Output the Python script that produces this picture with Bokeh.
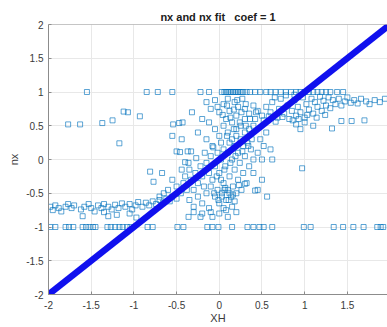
from bokeh.plotting import figure
from bokeh.models import Range1d, FixedTicker, Title, Span
from bokeh.embed import file_html
from bokeh.resources import INLINE

# ---------------- data ----------------
title_text = "nx and nx fit \u00a0 coef = 1"
x_label = "XH"
y_label = "nx"
coef = 1

x_ticks = [-2, -1.5, -1, -0.5, 0, 0.5, 1, 1.5, 2]
x_tick_labels = ["-2", "-1.5", "-1", "-0.5", "0", "0.5", "1", "1.5", "2"]
y_ticks = [-2, -1.5, -1, -0.5, 0, 0.5, 1, 1.5, 2]
y_tick_labels = ["-2", "-1.5", "-1", "-0.5", "0", "0.5", "1", "1.5", "2"]

# row of samples at nx = 1
row_top_x = [-1.55, -0.85, -0.72, -0.55, -0.22, -0.12, 0.03, 0.06, 0.08, 0.1, 0.12, 0.14, 0.16,
             0.18, 0.2, 0.22, 0.24, 0.26, 0.28, 0.32, 0.36, 0.42, 0.48, 0.55, 0.6, 0.66, 0.72,
             0.78, 0.84, 0.9, 0.95, 1.0, 1.05, 1.1, 1.15, 1.2, 1.25, 1.3, 1.38, 1.45]
row_top_y = [1.0] * len(row_top_x)

# row of samples at nx = -1
row_bot_x = [-1.98, -1.92, -1.8, -1.76, -1.71, -1.6, -1.56, -1.52, -1.48, -1.45, -1.31,
             -1.27, -1.22, -1.17, -1.13, -1.08, -1.04, -0.84, -0.78, -0.49, -0.42, -0.14,
             -0.08, -0.01, 0.15, 0.33, 0.4, 0.47, 0.52, 0.62, 0.99, 1.07, 1.34, 1.45,
             1.57, 1.69, 1.85, 1.89, 1.92]
row_bot_y = [-1.0] * len(row_bot_x)

# left cluster around nx = -0.7
left_x = [-1.98, -1.95, -1.92, -1.88, -1.85, -1.8, -1.77, -1.73, -1.7, -1.62, -1.58, -1.53,
          -1.5, -1.46, -1.42, -1.38, -1.35, -1.3, -1.26, -1.22, -1.18, -1.14, -1.1, -1.05,
          -1.02, -0.98, -0.95, -0.9, -0.86, -0.82, -0.78, -0.74, -0.7, -0.66, -0.62, -0.58,
          -0.55, -1.6, -1.35, -1.3, -1.2, -0.97, -1.05]
left_y = [-0.7, -0.75, -0.68, -0.72, -0.77, -0.7, -0.66, -0.72, -0.68, -0.74, -0.7, -0.66,
          -0.72, -0.77, -0.68, -0.72, -0.66, -0.7, -0.74, -0.67, -0.72, -0.65, -0.7, -0.66,
          -0.74, -0.68, -0.63, -0.7, -0.64, -0.68, -0.62, -0.66, -0.6, -0.64, -0.58, -0.62,
          -0.55, -0.84, -0.78, -0.84, -0.82, -0.86, -0.8]

# scattered samples, upper left
upleft_x = [-1.77, -1.63, -1.37, -1.25, -1.12, -1.07, -0.93, -1.17, -0.54, -0.47, -0.43,
            -0.55, -0.44, -0.32, -0.46, -0.37, -0.4, -0.5, -0.33, -0.81, -0.67, -0.77,
            -0.6, -0.55, -0.65, -0.7, -0.5]
upleft_y = [0.52, 0.52, 0.54, 0.58, 0.71, 0.7, 0.64, 0.24, 0.52, 0.54, 0.55,
            0.35, 0.3, 0.7, 0.11, 0.12, -0.04, 0.12, 0.12, -0.18, -0.2, -0.33,
            -0.45, -0.3, -0.5, -0.55, -0.58]

# upper right band
band_x = [0.3, 0.35, 0.4, 0.45, 0.5, 0.55, 0.6, 0.62, 0.68, 0.7, 0.72, 0.76, 0.8, 0.82, 0.85,
          0.88, 0.9, 0.92, 0.95, 0.98, 1.0, 1.02, 1.05, 1.08, 1.1, 1.12, 1.15, 1.18, 1.2,
          1.22, 1.25, 1.28, 1.3, 1.33, 1.36, 1.4, 1.43, 1.47, 1.5, 1.54, 1.58, 1.62, 1.66,
          1.72, 1.76, 1.82, 1.88, 1.94, 1.43, 1.55, 1.7, 1.32, 1.1, 0.95, 1.0, 0.9, 0.62,
          0.6, 0.4, 0.97, 0.56, 0.45, 0.3, 0.5,
          0.42, 0.52, 0.58, 0.66, 0.74, 0.86, 0.93, 1.03, 1.14, 1.24, 0.65, 0.78, 0.88]
band_y = [0.75, 0.68, 0.8, 0.72, 0.65, 0.78, 0.7, 0.85, 0.62, 0.75, 0.9, 0.68, 0.8, 0.6, 0.72,
          0.88, 0.65, 0.78, 0.7, 0.92, 0.62, 0.82, 0.74, 0.9, 0.68, 0.85, 0.78, 0.93, 0.72,
          0.87, 0.8, 0.92, 0.76, 0.88, 0.82, 0.9, 0.8, 0.86, 0.92, 0.84, 0.88, 0.83, 0.9,
          0.86, 0.82, 0.88, 0.85, 0.9, 0.57, 0.57, 0.58, 0.46, 0.5, 0.45, 0.55, 0.52, 0.0,
          0.15, 0.0, -0.13, -0.55, -0.45, -0.36, -0.3,
          0.6, 0.58, 0.64, 0.56, 0.63, 0.58, 0.6, 0.66, 0.62, 0.66, 0.92, 0.95, 0.96]

# central cloud
mid_x = [-0.15, -0.1, -0.05, 0.0, 0.05, 0.08, 0.1, 0.12, 0.15, 0.18, 0.2, 0.22, 0.25, 0.27,
         0.3, 0.05, -0.05, 0.0, -0.12, -0.2, 0.1, 0.15, -0.08, -0.15, -0.25, 0.2,
         -0.5, -0.45, -0.42, -0.4, -0.38, -0.35, -0.33, -0.3, -0.28, -0.25, -0.22, -0.2,
         -0.18, -0.15, -0.12, -0.1, -0.08, -0.05, -0.02, 0.0, 0.02, 0.05, 0.07, 0.1, 0.12,
         0.15, 0.18, 0.2, 0.22, 0.25, 0.28, 0.3, 0.33, 0.35, 0.38, 0.4,
         -0.35, -0.3, -0.25, -0.2, -0.15, -0.12, -0.1, -0.05, -0.02, 0.0, 0.03, 0.05, 0.08,
         0.1, 0.12, 0.14, 0.16, 0.18, 0.2, 0.22, 0.24, 0.26, 0.28, 0.3, 0.32, 0.35, 0.37,
         0.4, 0.42, 0.45, 0.48, 0.5, 0.52, 0.55,
         -0.3, -0.2, -0.1, 0.0, 0.08, -0.36, -0.22, -0.08, 0.1, 0.05, 0.15, 0.2,
         -0.02, 0.04, 0.09, 0.13, 0.17, 0.21, 0.26, 0.31, 0.02, 0.07, 0.12, 0.18, 0.23,
         -0.06, -0.01, 0.03, 0.06, 0.11, 0.16, -0.44, -0.36, -0.27, -0.17, -0.07, 0.02,
         0.09, 0.17, 0.24, 0.31, 0.36, 0.43, -0.03, 0.06, 0.13, 0.19, 0.27, 0.34]
mid_y = [0.85, 0.75, 0.88, 0.7, 0.82, 0.6, 0.9, 0.72, 0.55, 0.85, 0.65, 0.78, 0.5, 0.9,
         0.6, 0.5, 0.45, 0.35, 0.55, 0.6, 0.4, 0.3, 0.2, 0.3, 0.4, 0.45,
         -0.4, -0.5, -0.35, -0.25, -0.45, -0.15, -0.3, -0.45, -0.2, -0.35, -0.1, -0.25,
         -0.4, -0.05, -0.2, 0.05, -0.3, -0.1, 0.1, -0.2, 0.0, 0.15, -0.1, 0.1, 0.25,
         0.0, 0.2, 0.35, 0.1, 0.3, 0.2, 0.4, 0.25, 0.45, 0.3, 0.5,
         -0.6, -0.7, -0.55, -0.65, -0.5, -0.72, -0.4, -0.55, -0.45, -0.65, -0.5, -0.35, -0.6,
         -0.45, -0.25, -0.55, -0.4, -0.15, -0.5, -0.3, -0.05, -0.45, -0.2, 0.05, -0.35, -0.1,
         0.15, -0.2, -0.46, 0.1, 0.3, 0.0, 0.2, 0.4,
         -0.78, -0.8, -0.78, -0.8, -0.75, -0.85, -0.85, -0.85, -0.85, -0.72, -0.7, -0.78,
         0.78, 0.66, 0.8, 0.62, 0.74, 0.88, 0.7, 0.82, -0.3, -0.42, -0.5, -0.62, -0.38,
         -0.5, -0.6, -0.55, -0.45, -0.6, -0.52, -0.15, -0.05, 0.02, 0.1, 0.18, 0.25,
         0.35, 0.45, 0.55, 0.5, 0.6, 0.7, -0.25, -0.15, -0.05, 0.05, 0.12, 0.2]

# fitted line end points (XH), fit = coef * XH
fit_x = [-2.0, 2.0]

# ---------------- figure ----------------
xs = row_top_x + row_bot_x + left_x + upleft_x + band_x + mid_x
ys = row_top_y + row_bot_y + left_y + upleft_y + band_y + mid_y
fit_y = [coef * v for v in fit_x]

FONT = "Liberation Sans"
AX = "#8c8c8c"
LBL = "#3a3a3a"

p = figure(width=387, height=327, output_backend="svg", toolbar_location=None,
           x_range=Range1d(-2, 1.97), y_range=Range1d(-2, 2),
           min_border_left=48, min_border_right=0, min_border_top=24, min_border_bottom=33)
p.background_fill_color = "white"
p.border_fill_color = "white"
p.outline_line_color = None

p.title = Title(text=title_text, align="center", text_font=FONT, text_font_size="11px",
                text_font_style="bold", text_color="#202020", standoff=4)

for ax, ticks, labels in ((p.xaxis[0], x_ticks, x_tick_labels), (p.yaxis[0], y_ticks, y_tick_labels)):
    ax.ticker = FixedTicker(ticks=ticks)
    ax.major_label_overrides = {t: l for t, l in zip(ticks, labels)}
    ax.minor_tick_line_color = None
    ax.major_tick_in = 3
    ax.major_tick_out = 0
    ax.axis_line_color = AX
    ax.major_tick_line_color = AX
    ax.major_label_text_font = FONT
    ax.major_label_text_font_size = "10px"
    ax.major_label_text_color = LBL
    ax.axis_label_text_font = FONT
    ax.axis_label_text_font_size = "11px"
    ax.axis_label_text_font_style = "normal"
    ax.axis_label_text_color = LBL

p.xaxis.axis_label = x_label
p.yaxis.axis_label = y_label
p.xaxis.major_label_standoff = 6
p.xaxis.axis_label_standoff = 0
p.yaxis.major_label_standoff = 5
p.yaxis.axis_label_standoff = 3

p.add_layout(Span(location=2, dimension="width", line_color=AX, line_width=1))

p.xgrid.ticker = FixedTicker(ticks=x_ticks)
p.ygrid.ticker = FixedTicker(ticks=y_ticks)
p.grid.grid_line_color = "#e8e8e8"
p.grid.grid_line_width = 1

p.scatter(xs, ys, marker="square", size=5, fill_color=None, line_color="#0072BD",
          line_width=0.8, line_alpha=0.8)
p.line(fit_x, fit_y, line_color="#1010EE", line_width=6.5)

open("out.html", "w").write(file_html(p, INLINE))
